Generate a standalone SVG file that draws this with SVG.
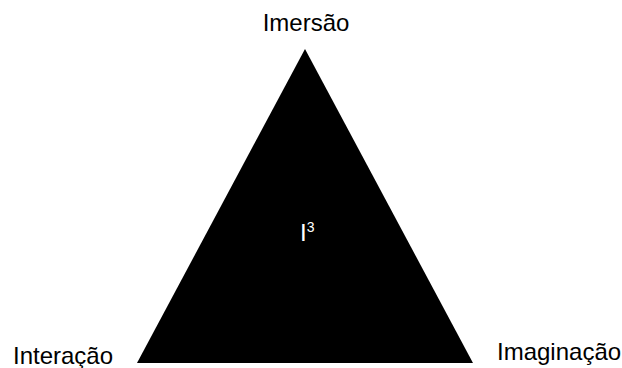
<svg xmlns="http://www.w3.org/2000/svg" width="622" height="368" viewBox="0 0 622 368">
<style>
text{font-family:"Liberation Sans",Arial,sans-serif;font-size:24px;fill:#000}
</style>
<rect width="622" height="368" fill="#fff"/>
<g id="triangle">
<polygon points="305,49 137,363 473,363" fill="#000"/>
<text x="300" y="241" style="fill:#fff">I<tspan font-size="14" dy="-9">3</tspan></text>
</g>
<g id="imersao"><text x="306" y="31" text-anchor="middle">Imersão</text></g>
<g id="interacao"><text x="13" y="364">Interação</text></g>
<g id="imaginacao"><text x="497" y="360">Imaginação</text></g>
</svg>
